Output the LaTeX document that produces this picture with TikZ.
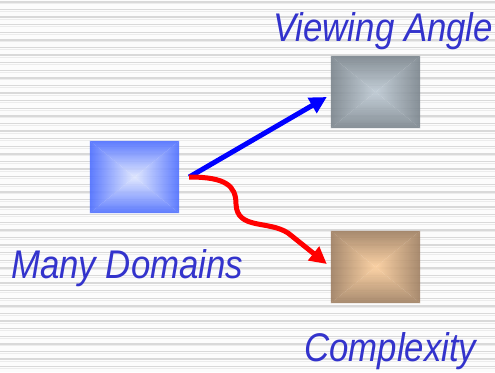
\documentclass[tikz,border=0pt]{standalone}
\usepackage{fontspec}
\usetikzlibrary{arrows.meta}
\newfontfamily\labelfont{Liberation Sans}[FakeStretch=0.87]
\definecolor{labelblue}{RGB}{51,51,204}
\definecolor{stripedark}{RGB}{217,217,217}
\definecolor{stripelight}{RGB}{236,236,236}
\definecolor{bgwhite}{RGB}{252,252,252}
\definecolor{blueedge}{RGB}{77,110,255}
\definecolor{bluecentre}{RGB}{222,230,255}
\definecolor{greyedge}{RGB}{122,132,140}
\definecolor{greycentre}{RGB}{190,202,212}
\definecolor{tanedge}{RGB}{158,126,96}
\definecolor{tancentre}{RGB}{252,206,156}
\tikzset{
  slab/.style={rectangle, minimum width=89pt, minimum height=72pt, inner sep=0pt},
  caption/.style={anchor=base west, inner sep=0pt, text=labelblue,
    font=\labelfont\itshape\fontsize{40}{40}\selectfont},
  link/.style={line width=5pt, -{Triangle[length=17pt,width=17pt]}},
}
% bevelled box: four triangles shaded from the edge colour to the centre colour
\newcommand{\bevelbox}[3]{%
  \colorlet{bevedge}{#2}\colorlet{bevcentre}{#3}\colorlet{bevmid}{#3!72!#2}%
  \begin{scope}[fill opacity=0.9]
  \shade[top color=bevedge, middle color=bevmid, bottom color=bevcentre] (#1.north west) -- (#1.north east) -- (#1.center) -- cycle;
  \shade[bottom color=bevedge, middle color=bevmid, top color=bevcentre] (#1.south west) -- (#1.south east) -- (#1.center) -- cycle;
  \shade[left color=bevedge, middle color=bevmid, right color=bevcentre] (#1.north west) -- (#1.south west) -- (#1.center) -- cycle;
  \shade[right color=bevedge, middle color=bevmid, left color=bevcentre] (#1.north east) -- (#1.south east) -- (#1.center) -- cycle;
  \end{scope}}
\begin{document}
\begin{tikzpicture}[x=1pt, y=-1pt]
  \useasboundingbox (0,0) rectangle (495,372);
  \fill[bgwhite] (0,0) rectangle (495,372);
  % striped backdrop
  \foreach \i in {0,...,49} {
    \fill[stripedark] (0,{1.2+7.6*\i}) rectangle (495,{2.6+7.6*\i});
    \fill[stripelight] (0,{3.4+7.6*\i}) rectangle (495,{4.4+7.6*\i});
  }
  % boxes
  \node[slab] (domains) at (134.5,177) {};
  \node[slab] (angle) at (375.5,92) {};
  \node[slab] (complexity) at (375.5,267) {};
  \bevelbox{domains}{blueedge}{bluecentre}
  \bevelbox{angle}{greyedge}{greycentre}
  \bevelbox{complexity}{tanedge}{tancentre}
  % labels
  \node[caption] (angletext) at (273,41) {Viewing Angle};
  \node[caption] (domainstext) at (11,278) {Many Domains};
  \node[caption] (complexitytext) at (304,361) {Complexity};
  % connectors
  \draw[link, blue] ([xshift=10pt]domains.east) -- ([xshift=-4pt,yshift=-5pt]angle.west);
  \draw[link, red] ([xshift=10pt]domains.east)
    .. controls (226,177) and (236,186) .. (236,204)
    .. controls (237,230) and (268,220) .. (288,233)
    -- ([xshift=-4pt,yshift=3pt]complexity.west);
\end{tikzpicture}
\end{document}
